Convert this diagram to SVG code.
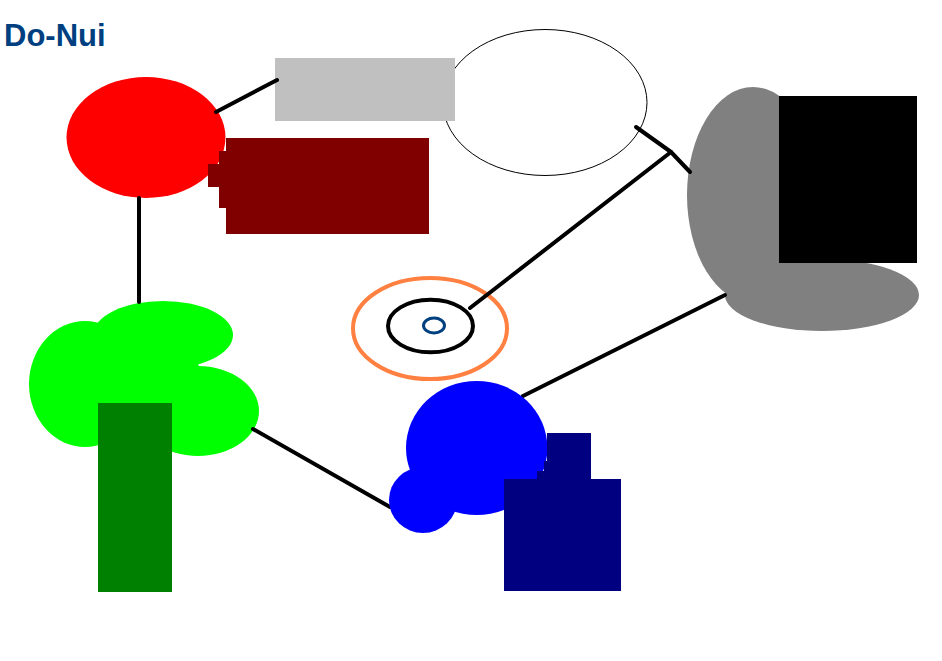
<svg xmlns="http://www.w3.org/2000/svg" width="942" height="661" viewBox="0 0 942 661">
<style>
.title{font-family:"Liberation Sans",Arial,sans-serif;font-weight:bold;font-size:31px;fill:#004080}
.conn{stroke:#000;stroke-width:4;fill:none;stroke-linecap:round;stroke-linejoin:round}
.lime{fill:#00ff00}
</style>
<rect width="942" height="661" fill="#fff"/>
<text class="title" x="4" y="46">Do-Nui</text>
<g id="ellipse-outline"><ellipse cx="545" cy="102.5" rx="102" ry="73" fill="#fff" stroke="#000" stroke-width="1"/></g>
<g id="gray-rect"><rect x="275" y="58" width="180" height="63" fill="#c0c0c0"/></g>
<g id="red-node">
<ellipse cx="146" cy="137.5" rx="79.5" ry="60.5" fill="#ff0000"/>
<polygon points="226,138 429,138 429,234 226,234 226,208 219,208 219,187 208,187 208,164 219,164 219,151 226,151" fill="#800000"/>
</g>
<g id="green-node">
<ellipse class="lime" cx="85" cy="384" rx="56" ry="63"/>
<ellipse class="lime" cx="163" cy="335" rx="70" ry="34"/>
<ellipse class="lime" cx="198" cy="411" rx="61" ry="45"/>
<ellipse class="lime" cx="145" cy="390" rx="60" ry="55"/>
<rect x="98" y="403" width="74" height="189" fill="#008000"/>
</g>
<g id="gray-node">
<ellipse cx="753" cy="195" rx="66" ry="108" fill="#808080"/>
<ellipse cx="822" cy="295" rx="97" ry="36" fill="#808080"/>
<rect x="779" y="96" width="138" height="167" fill="#000"/>
</g>
<g id="target-node">
<ellipse cx="430" cy="328.5" rx="77" ry="50.5" fill="none" stroke="#ff8040" stroke-width="4"/>
<ellipse cx="430.5" cy="326" rx="42.5" ry="26.3" fill="none" stroke="#000" stroke-width="4"/>
<ellipse cx="434" cy="325.5" rx="10.5" ry="7.5" fill="none" stroke="#004080" stroke-width="3"/>
</g>
<g id="connectors">
<line class="conn" x1="216" y1="112" x2="277" y2="80"/>
<line class="conn" x1="139" y1="198" x2="139" y2="302"/>
<polyline class="conn" points="636,127 671,152 690,172"/>
<line class="conn" x1="671" y1="152" x2="470" y2="308"/>
<line class="conn" x1="725" y1="295" x2="523" y2="396"/>
<line class="conn" x1="253" y1="429" x2="390" y2="507"/>
</g>
<g id="blue-node">
<ellipse cx="476.7" cy="448" rx="70.7" ry="67" fill="#0000ff"/>
<ellipse cx="423" cy="500" rx="34" ry="33" fill="#0000ff"/>
<polygon points="547,433 591,433 591,479 621,479 621,591 504,591 504,479 537,479 537,471 544,471 544,461 547,461" fill="#000080"/>
</g>
</svg>
